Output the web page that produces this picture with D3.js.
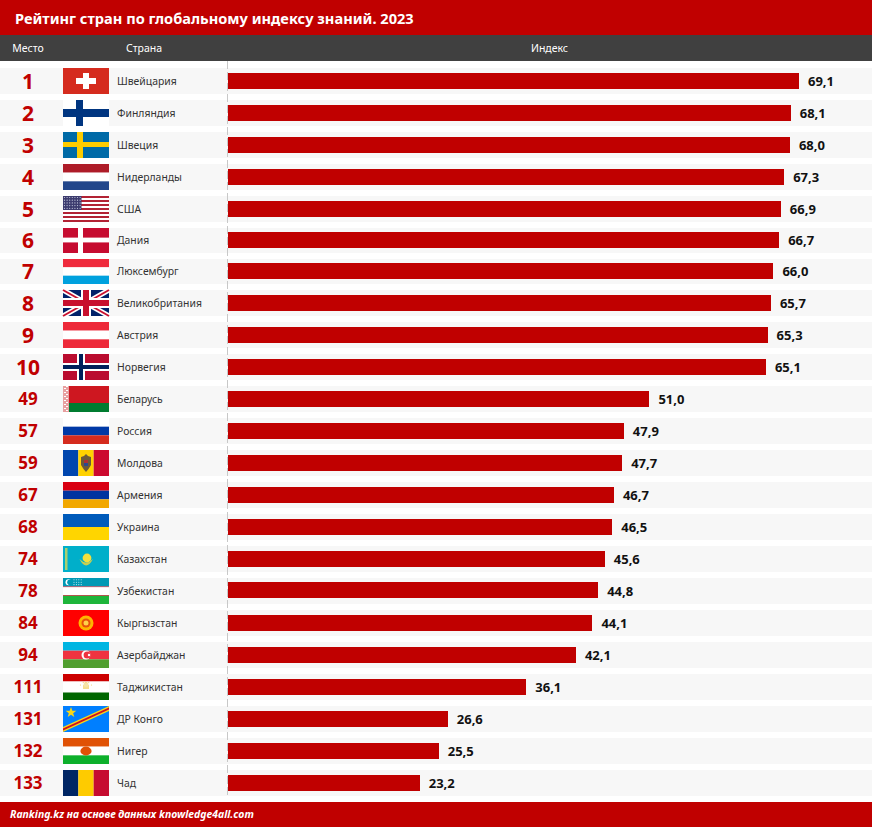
<!DOCTYPE html>
<html>
<head>
<meta charset="utf-8">
<script src="https://cdn.jsdelivr.net/npm/d3@7"></script>
<style>
html,body{margin:0;padding:0;background:#fff;}
svg{display:block;}
text{font-family:"Noto Sans",sans-serif;}
</style>
</head>
<body>
<div id="chart"></div>
<script>
var titleText = 'Рейтинг стран по глобальному индексу знаний. 2023';
var headers = ['Место','Страна','Индекс'];
var sourceText = 'Ranking.kz на основе данных knowledge4all.com';

var ranks = [1,2,3,4,5,6,7,8,9,10,49,57,59,67,68,74,78,84,94,111,131,132,133];
var countries = ['Швейцария','Финляндия','Швеция','Нидерланды','США','Дания','Люксембург','Великобритания','Австрия','Норвегия','Беларусь','Россия','Молдова','Армения','Украина','Казахстан','Узбекистан','Кыргызстан','Азербайджан','Таджикистан','ДР Конго','Нигер','Чад'];
var values = [69.1,68.1,68.0,67.3,66.9,66.7,66.0,65.7,65.3,65.1,51.0,47.9,47.7,46.7,46.5,45.6,44.8,44.1,42.1,36.1,26.6,25.5,23.2];

var width = 872, height = 827;
var red = '#c00000';
var rowH = 26, barH = 16, flagW = 46;
var flagX = 63, barX = 228;

var svg = d3.select('#chart').append('svg').attr('width',width).attr('height',height);

// the rows are not quite evenly spaced in the original
var y = d3.scaleLinear().domain([0,5,7,22]).range([68,228,290,770]);
var x = d3.scaleLinear().domain([0,69.1]).range([barX,799]);
function hgt(i){ return y(i+1)-y(i)-6 }

svg.append('rect').attr('width',width).attr('height',35).attr('fill',red);
svg.append('rect').attr('y',35).attr('width',width).attr('height',26).attr('fill','#404040');
svg.append('rect').attr('y',802).attr('width',width).attr('height',25).attr('fill',red);

svg.append('text').attr('x',15).attr('y',24).attr('fill','#fff')
    .style('font-size','14.6px').style('font-weight','bold').text(titleText);

svg.selectAll('.hd').data(headers).enter().append('text')
    .attr('class','hd')
    .attr('x',function(d,i){ return [28,144,549.5][i] })
    .attr('y',52)
    .attr('text-anchor','middle')
    .attr('fill','#fff')
    .style('font-size','10.5px')
    .text(function(d){ return d });

svg.append('text').attr('x',10).attr('y',818).attr('fill','#fff')
    .style('font-size','10.4px').style('font-style','italic').style('font-weight','bold').text(sourceText);

var rows = svg.selectAll('.row').data(countries).enter().append('g')
    .attr('class','row')
    .attr('transform',function(d,i){ return 'translate(0,'+y(i)+')' });

rows.append('rect').attr('width',width).attr('height',function(d,i){ return hgt(i) }).attr('fill','#f7f7f7');

svg.append('line').attr('x1',227.5).attr('x2',227.5).attr('y1',61).attr('y2',797)
    .attr('stroke','#c8c8c8').attr('stroke-dasharray','8,3');

rows.append('text')
    .attr('x',28).attr('y',function(d,i){ return hgt(i)/2 })
    .attr('dy','0.36em')
    .attr('text-anchor','middle')
    .attr('fill',red)
    .style('font-weight','bold')
    .style('font-size',function(d,i){ return ranks[i] <= 10 ? '21px' : '17px' })
    .text(function(d,i){ return ranks[i] });

rows.append('text')
    .attr('x',117).attr('y',function(d,i){ return hgt(i)/2 })
    .attr('dy','0.36em')
    .attr('fill','#333')
    .style('font-size','10.4px')
    .text(function(d){ return d });

rows.append('rect')
    .attr('x',barX)
    .attr('y',function(d,i){ return Math.floor((hgt(i)-barH)/2) })
    .attr('width',function(d,i){ return Math.round(x(values[i])-barX) })
    .attr('height',barH)
    .attr('fill',red);

rows.append('text')
    .attr('x',function(d,i){ return x(values[i])+9 })
    .attr('y',function(d,i){ return hgt(i)/2 })
    .attr('dy','0.36em')
    .attr('fill','#111')
    .style('font-size','13px')
    .style('font-weight','bold')
    .text(function(d,i){ return values[i].toFixed(1).replace('.',',') });

// flags
function r(g,x0,y0,w,h,c){ g.append('rect').attr('x',x0).attr('y',y0).attr('width',w).attr('height',h).attr('fill',c) }
function hStripes(g,cols){ cols.forEach(function(c,i){ r(g,0,i*rowH/cols.length,flagW,rowH/cols.length,c) }) }
function vStripes(g,cols){ cols.forEach(function(c,i){ r(g,i*flagW/cols.length,0,flagW/cols.length,rowH,c) }) }
function nordic(g,bg,cross,vx,vw,hy,hh){ r(g,0,0,flagW,rowH,bg); r(g,vx,0,vw,rowH,cross); r(g,0,hy,flagW,hh,cross) }
function circle(g,cx,cy,rad,c){ g.append('circle').attr('cx',cx).attr('cy',cy).attr('r',rad).attr('fill',c) }
function path(g,d,c){ g.append('path').attr('d',d).attr('fill',c) }

var flagDraw = {
    'Швейцария': function(g){ r(g,0,0,flagW,rowH,'#d52b1e'); r(g,13,10,20,6,'#fff'); r(g,20,5,6,16,'#fff') },
    'Финляндия': function(g){ nordic(g,'#fff','#003580',13,7,9,8) },
    'Швеция': function(g){ nordic(g,'#006aa7','#fecc00',14,6,10,5) },
    'Нидерланды': function(g){ hStripes(g,['#ae1c28','#fff','#21468b']) },
    'США': function(g){
        d3.range(13).forEach(function(i){ r(g,0,i*rowH/13,flagW,rowH/13,i%2 ? '#fff' : '#b22234') });
        r(g,0,0,18.5,14,'#3c3b6e');
        d3.range(5).forEach(function(j){ d3.range(7).forEach(function(i){ circle(g,1.5+i*2.6,1.5+j*2.7,0.6,'#c8cce0') }) });
    },
    'Дания': function(g){ nordic(g,'#c60c30','#fff',15,5,10,5) },
    'Люксембург': function(g){ hStripes(g,['#ef2b3d','#fff','#00a1de']) },
    'Великобритания': function(g){
        r(g,0,0,flagW,rowH,'#012169');
        [[0,0,flagW,rowH],[flagW,0,0,rowH]].forEach(function(l){
            g.append('line').attr('x1',l[0]).attr('y1',l[1]).attr('x2',l[2]).attr('y2',l[3]).attr('stroke','#fff').attr('stroke-width',5);
            g.append('line').attr('x1',l[0]).attr('y1',l[1]).attr('x2',l[2]).attr('y2',l[3]).attr('stroke','#c8102e').attr('stroke-width',2);
        });
        r(g,18,0,10,rowH,'#fff'); r(g,0,8,flagW,10,'#fff');
        r(g,20,0,6,rowH,'#c8102e'); r(g,0,10,flagW,6,'#c8102e');
    },
    'Австрия': function(g){ hStripes(g,['#ed2939','#fff','#ed2939']) },
    'Норвегия': function(g){ nordic(g,'#ba0c2f','#fff',14,8,9,8); r(g,16,0,4,rowH,'#00205b'); r(g,0,11,flagW,4,'#00205b') },
    'Беларусь': function(g){
        r(g,0,0,flagW,17,'#ce1720'); r(g,0,17,flagW,9,'#007c30');
        r(g,0,0,6,rowH,'#e8a0a0');
        d3.range(13).forEach(function(i){ r(g,i%2 ? 1 : 3,i*2,2,1,'#fff') });
    },
    'Россия': function(g){ hStripes(g,['#fff','#0039a6','#d52b1e']) },
    'Молдова': function(g){
        vStripes(g,['#0046ae','#ffd200','#cc092f']);
        path(g,'M18,7 L21,6 L23,4 L25,6 L28,7 L28,15 L25.5,19 L23,22 L20.5,19 L18,15 z','#6b5a3a');
        r(g,21,10,4,3,'#b03030'); r(g,21,13,4,3,'#2a4a90');
    },
    'Армения': function(g){ hStripes(g,['#d90012','#0033a0','#f2a800']) },
    'Украина': function(g){ hStripes(g,['#005bbb','#ffd500']) },
    'Казахстан': function(g){
        r(g,0,0,flagW,rowH,'#00afca');
        r(g,2,2,2.5,22,'#a8cf70');
        path(g,'M16.5,13 Q23,26 30,13 Q23,20 16.5,13 z','#c9cf50');
        circle(g,24,12,4.4,'#f5e03c');
    },
    'Узбекистан': function(g){
        r(g,0,0,flagW,8.5,'#0099b5'); r(g,0,8.5,flagW,.8,'#ce1126');
        r(g,0,9.3,flagW,7.7,'#fff');
        r(g,0,17,flagW,.8,'#ce1126'); r(g,0,17.8,flagW,8.2,'#1eb53a');
        circle(g,5.5,4.2,3,'#fff'); circle(g,7,4.2,2.8,'#0099b5');
        d3.range(3).forEach(function(j){ d3.range(4).forEach(function(i){ circle(g,11+i*2.4,1.8+j*2.4,0.55,'#cfeef3') }) });
    },
    'Кыргызстан': function(g){
        r(g,0,0,flagW,rowH,'#ff0000');
        circle(g,23,13,7.5,'#ffb400'); circle(g,23,13,4.5,'#e8500a'); circle(g,23,13,2.5,'#ffd24a');
    },
    'Азербайджан': function(g){
        hStripes(g,['#00b5e2','#ef3340','#509e2f']);
        circle(g,23,13,4.5,'#fff'); circle(g,24.2,13,3.6,'#ef3340');
        circle(g,26,13,1.2,'#fff');
    },
    'Таджикистан': function(g){
        r(g,0,0,flagW,7.5,'#cc0000'); r(g,0,7.5,flagW,11,'#fff'); r(g,0,18.5,flagW,7.5,'#006600');
        r(g,20,11,6,4,'#f5dd90'); circle(g,23,10.5,2.5,'#f5e3a8');
        d3.range(5).forEach(function(i){ circle(g,17.5+i*2.75,i==0||i==4 ? 11 : 8.3,0.6,'#f0d070') });
    },
    'ДР Конго': function(g){
        r(g,0,0,flagW,rowH,'#007fff');
        path(g,'M0,21 L46,0 L46,5 L0,26 z','#f7d618');
        path(g,'M0,22.5 L46,1.5 L46,3.5 L0,24.5 z','#ce1021');
        path(g,d3.range(10).map(function(i){
            var a = i*Math.PI/5 - Math.PI/2, rad = i%2 ? 2.3 : 5.6;
            return (i ? 'L' : 'M')+(8+rad*Math.cos(a))+','+(6.5+rad*Math.sin(a));
        }).join('')+'z','#f7d618');
    },
    'Нигер': function(g){ hStripes(g,['#e05206','#fff','#0db02b']); g.append('ellipse').attr('cx',23).attr('cy',13).attr('rx',5.6).attr('ry',4.4).attr('fill','#e05206') },
    'Чад': function(g){ vStripes(g,['#002664','#fecb00','#c60c30']) }
};

rows.append('g')
    .attr('transform',function(d,i){ return 'translate('+flagX+',0) scale(1,'+(hgt(i)/rowH)+')' })
    .each(function(d){ flagDraw[d](d3.select(this)) });
</script>
</body>
</html>
